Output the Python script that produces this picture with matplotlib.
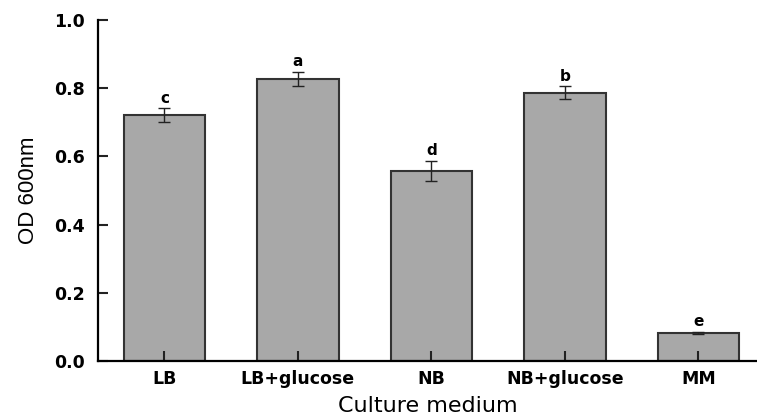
import matplotlib.pyplot as plt
import numpy as np

media = ['LB', 'LB+glucose', 'NB', 'NB+glucose', 'MM']
od600 = [0.72, 0.827, 0.557, 0.786, 0.082]
od_err = [0.02, 0.02, 0.03, 0.019, 0.003]
letters = ['c', 'a', 'd', 'b', 'e']

fig = plt.figure(figsize=(7.57, 4.19), dpi=100)
ax = fig.add_axes([0.129, 0.138, 0.871, 0.815])

x = np.arange(len(media))
ax.bar(x, od600, width=0.61, color='#a8a8a8', edgecolor='#333333', linewidth=1.5,
       yerr=od_err, capsize=4, error_kw=dict(elinewidth=1, capthick=1, ecolor='#222222'))

# significance letters
for xi, v, e, t in zip(x, od600, od_err, letters):
    ax.text(xi, v + e + 0.008, t, ha='center', va='bottom', fontsize=11,
            fontweight='bold', family='DejaVu Sans')

ax.set_xlim(-0.5, 4.44)
ax.set_ylim(0, 1.0)
ax.set_yticks([0.0, 0.2, 0.4, 0.6, 0.8, 1.0])
ax.set_yticklabels(['0.0', '0.2', '0.4', '0.6', '0.8', '1.0'])
ax.set_xticks(x)
ax.set_xticklabels(media)

for lab in ax.get_xticklabels() + ax.get_yticklabels():
    lab.set_family('DejaVu Sans')
    lab.set_fontweight('bold')
    lab.set_fontsize(12.5)

ax.tick_params(axis='both', direction='in', length=7, width=1.5, color='#222222')
ax.tick_params(axis='x', pad=6)
ax.tick_params(axis='y', pad=9)

ax.spines['top'].set_visible(False)
ax.spines['right'].set_visible(False)
ax.spines['left'].set_linewidth(1.6)
ax.spines['bottom'].set_linewidth(1.6)

ax.set_xlabel('Culture medium', fontsize=16, family='DejaVu Sans', labelpad=6)
ax.set_ylabel('OD 600nm', fontsize=16, family='Liberation Sans', labelpad=11)

fig.savefig('out.png', dpi=100)
